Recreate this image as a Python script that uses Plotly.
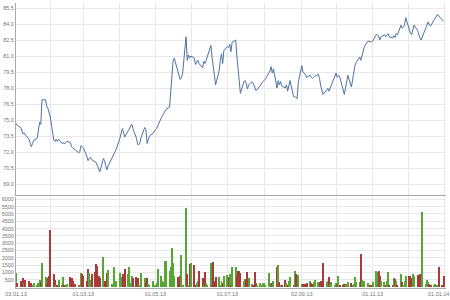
import pandas as pd
import plotly.graph_objects as go

# ---- price (close) per month, trading days ----
close_jan = [74.7, 74.5, 74.3, 73.9, 73.7, 73.8, 73.6, 73.2, 72.9, 72.5, 72.8, 73.1, 73.3, 74.0, 74.8, 74.6, 76.9, 76.9, 76.3, 76.1, 75.7]
close_feb = [75.3, 73.1, 73.0, 73.2, 73.0, 73.2, 72.8, 72.9, 72.75, 72.9, 73.0, 72.9, 72.5, 72.4, 72.3, 72.2, 71.95, 72.0, 72.6, 72.5]
close_mar = [72.4, 71.6, 71.2, 71.4, 71.5, 71.3, 71.1, 71.0, 70.7, 70.4, 70.15, 71.4, 71.2, 70.7, 70.35, 70.7, 71.4, 71.5, 71.8, 72.0, 72.3]
close_apr = [73.3, 73.9, 74.2, 73.9, 73.4, 74.0, 74.2, 74.4, 74.6, 74.2, 73.3, 72.7, 72.7, 72.9, 73.4, 74.3, 74.1, 72.8, 73.1, 73.5, 73.75, 74.0]
close_may = [74.1, 74.2, 74.5, 75.2, 75.4, 75.6, 75.9, 76.0, 76.2, 77.5, 79.2, 80.5, 80.8, 79.5, 79.3, 78.8, 79.0, 79.3, 82.8, 80.6, 81.1, 80.8, 81.0]
close_jun = [80.8, 80.2, 80.4, 80.6, 80.3, 79.9, 80.5, 80.3, 80.6, 80.9, 82.0, 80.9, 80.2, 79.2, 78.3, 79.6, 80.6, 81.2, 80.3, 81.5]
close_jul = [81.9, 81.8, 82.1, 81.4, 82.3, 82.5, 81.0, 79.7, 78.5, 77.5, 78.6, 78.7, 78.4, 77.9, 78.3, 78.6, 78.4, 78.1, 77.8, 77.8, 78.35, 78.4, 78.6]
close_aug = [78.7, 78.8, 79.4, 79.6, 80.0, 79.4, 79.8, 78.0, 78.7, 78.3, 78.6, 78.2, 78.0, 78.3, 77.7, 78.2, 78.7, 77.2, 77.2, 77.1, 77.0, 78.5]
close_sep = [80.1, 79.5, 79.4, 79.3, 79.0, 79.2, 79.0, 78.9, 79.0, 79.1, 79.3, 78.9, 78.2, 77.8, 77.4, 77.8, 77.97, 77.7, 78.0, 78.3, 79.2]
close_oct = [79.4, 79.0, 79.2, 79.1, 77.8, 77.4, 78.0, 78.6, 79.2, 78.1, 78.7, 79.6, 80.1, 80.4, 80.9, 80.6, 81.0, 81.5, 81.9, 82.4, 82.4, 82.35, 82.3]
close_nov = [82.4, 83.0, 83.0, 82.9, 82.5, 82.8, 83.0, 82.8, 83.0, 83.1, 82.8, 82.7, 82.9, 82.75, 83.1, 83.0, 83.9, 83.6, 83.7, 83.9, 84.6]
close_dec = [83.4, 83.1, 83.0, 83.4, 83.9, 83.4, 82.9, 82.7, 82.5, 82.8, 83.6, 84.0, 84.2, 83.9, 83.8, 84.4, 84.6, 84.7, 84.9, 84.75, 84.4, 84.25]

# ---- volume per month ----
vol_jan = [950, 270, 430, 150, 600, 270, 500, 430, 200, 300, 100, 270, 150, 300, 500, 350, 1620, 680, 200, 600, 730]
vol_feb = [3900, 890, 500, 150, 100, 500, 100, 660, 80, 150, 200, 660, 600, 430, 100, 200, 150, 100, 960, 910]
vol_mar = [730, 430, 1230, 960, 500, 890, 1030, 1550, 1400, 730, 600, 2075, 430, 100, 950, 1190, 200, 200, 1340, 300, 400]
vol_apr = [960, 300, 660, 890, 1230, 890, 1340, 270, 730, 600, 660, 600, 100, 100, 960, 600, 300, 600, 200, 100, 430, 150]
vol_may = [150, 300, 1230, 750, 430, 360, 1800, 1800, 1100, 1330, 2645, 1620, 730, 660, 300, 730, 2190, 100, 5380, 890, 150, 1570, 1620]
vol_jun = [1480, 100, 270, 430, 1070, 600, 100, 1030, 300, 100, 1620, 100, 1730, 430, 660, 660, 100, 430, 300, 750]
vol_jul = [800, 660, 890, 150, 1340, 1340, 730, 1070, 1100, 960, 430, 560, 500, 1030, 600, 200, 100, 1030, 300, 100, 270, 100, 300]
vol_aug = [300, 150, 960, 100, 270, 300, 430, 1340, 1480, 360, 100, 100, 500, 300, 100, 430, 660, 100, 1100, 890, 100, 800]
vol_sep = [200, 200, 100, 200, 270, 430, 270, 200, 360, 500, 360, 360, 430, 360, 1620, 360, 430, 660, 100, 360, 100]
vol_oct = [270, 200, 720, 100, 100, 200, 200, 100, 360, 270, 100, 200, 660, 360, 360, 2235, 500, 360, 430, 270, 100, 150, 100]
vol_nov = [360, 1100, 1030, 1100, 720, 430, 360, 100, 430, 1030, 100, 100, 600, 560, 430, 100, 890, 360, 100, 430, 730]
vol_dec = [730, 730, 600, 890, 730, 800, 200, 890, 100, 5110, 200, 500, 360, 200, 100, 100, 200, 100, 100, 1340, 100, 730]

# ---- axis ticks ----
x_tick_dates = ["2013-01-03", "2013-02-01", "2013-03-01", "2013-04-01", "2013-05-01", "2013-06-01",
                "2013-07-01", "2013-08-01", "2013-09-02", "2013-10-01", "2013-11-01", "2013-12-01", "2014-01-01"]
x_tick_text = ["03.01.13", "", "01.03.13", "", "01.05.13", "", "01.07.13", "", "02.09.13", "", "01.11.13", "", ""]
last_label = "01.01.14"
price_ticks = [69.0 + 1.5 * i for i in range(12)]
volume_ticks = [500 * i for i in range(1, 13)]

close = (close_jan + close_feb + close_mar + close_apr + close_may + close_jun +
         close_jul + close_aug + close_sep + close_oct + close_nov + close_dec)
volume = (vol_jan + vol_feb + vol_mar + vol_apr + vol_may + vol_jun +
          vol_jul + vol_aug + vol_sep + vol_oct + vol_nov + vol_dec)
dates = list(pd.bdate_range("2013-01-03", "2013-12-31"))
n = min(len(dates), len(close), len(volume))
dates, close, volume = dates[:n], close[:n], volume[:n]

GREEN = "#55a634"
RED = "#a83a3a"
colors = [GREEN] + [GREEN if close[i] >= close[i - 1] else RED for i in range(1, n)]

font = dict(family="Liberation Sans, Arial, sans-serif", size=5.5, color="#777777")
grid = "#e8e8e8"
axline = "#aaaaaa"
xrange = ["2013-01-03", "2014-01-02 02:00"]

fig = go.Figure()
fig.add_trace(go.Scatter(x=dates, y=close, mode="lines", line=dict(color="#4d72a0", width=1),
                         xaxis="x", yaxis="y", hoverinfo="skip"))
fig.add_trace(go.Bar(x=dates, y=volume, marker=dict(color=colors, line=dict(width=0)),
                     width=86400000 * 0.85, xaxis="x2", yaxis="y2", hoverinfo="skip"))

fig.update_layout(
    template="none",
    width=450, height=300,
    margin=dict(l=16, r=4, t=3, b=12),
    paper_bgcolor="white", plot_bgcolor="white",
    showlegend=False,
    font=font,
    xaxis=dict(domain=[0, 1], anchor="y", type="date", range=xrange,
               tickmode="array", tickvals=x_tick_dates, showticklabels=False,
               showgrid=True, gridcolor=grid, gridwidth=1, zeroline=False,
               showline=True, linecolor=axline, linewidth=1, ticks=""),
    yaxis=dict(domain=[0.328, 1], anchor="x", range=[68.02, 85.97],
               tickmode="array", tickvals=price_ticks, tickformat=".1f",
               showgrid=True, gridcolor=grid, gridwidth=1, zeroline=False,
               showline=True, linecolor=axline, linewidth=1,
               ticks="", tickfont=font),
    xaxis2=dict(domain=[0, 1], anchor="y2", type="date", range=xrange,
                tickmode="array", tickvals=x_tick_dates, ticktext=x_tick_text,
                showgrid=True, gridcolor=grid, gridwidth=1, zeroline=False,
                showline=True, linecolor=axline, linewidth=1, ticks="", tickangle=0,
                tickfont=font),
    yaxis2=dict(domain=[0, 0.319], anchor="x2", range=[-68, 6156],
                tickmode="array", tickvals=volume_ticks,
                showgrid=True, gridcolor=grid, gridwidth=1, zeroline=False,
                showline=True, linecolor=axline, linewidth=1,
                ticks="", tickfont=font),
    bargap=0,
)
fig.add_annotation(x="2014-01-01", y=0, xref="x2", yref="paper", text=last_label,
                   showarrow=False, yanchor="top", xanchor="center", xshift=-6, yshift=-1,
                   font=font)

fig.write_html("out.html")
